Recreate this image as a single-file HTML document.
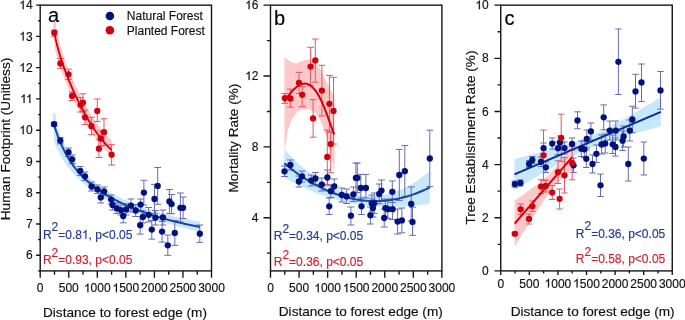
<!DOCTYPE html>
<html><head><meta charset="utf-8"><title>Forest edge effects</title>
<style>
html,body{margin:0;padding:0;background:#fff;}
body{width:685px;height:320px;overflow:hidden;}
svg{display:block;font-family:"Liberation Sans", sans-serif;will-change:transform;}
</style></head><body>
<svg xmlns="http://www.w3.org/2000/svg" width="685" height="320" viewBox="0 0 685 320">
<path d="M54.00,116.74 L54.92,119.62 L55.84,122.54 L56.75,125.33 L57.67,127.99 L58.59,130.54 L59.51,132.97 L60.43,135.32 L61.35,137.60 L62.26,139.78 L63.18,141.87 L64.10,143.88 L65.02,145.79 L65.94,147.63 L66.86,149.40 L67.77,151.09 L68.69,152.72 L69.61,154.28 L70.53,155.79 L71.45,157.24 L72.36,158.64 L73.28,159.98 L74.20,161.28 L75.12,162.53 L76.04,163.75 L76.96,164.92 L77.87,166.05 L78.79,167.15 L79.71,168.21 L80.63,169.26 L81.55,170.29 L82.47,171.29 L83.38,172.26 L84.30,173.21 L85.22,174.13 L86.14,175.02 L87.06,175.89 L87.97,176.74 L88.89,177.57 L89.81,178.37 L90.73,179.16 L91.65,179.93 L92.57,180.68 L93.48,181.42 L94.40,182.14 L95.32,182.84 L96.24,183.53 L97.16,184.20 L98.08,184.86 L98.99,185.51 L99.91,186.15 L100.83,186.77 L101.75,187.38 L102.67,187.98 L103.58,188.57 L104.50,189.15 L105.42,189.72 L106.34,190.28 L107.26,190.83 L108.18,191.37 L109.09,191.91 L110.01,192.43 L110.93,192.95 L111.85,193.46 L112.77,193.96 L113.69,194.45 L114.60,194.94 L115.52,195.42 L116.44,195.89 L117.36,196.35 L118.28,196.81 L119.19,197.26 L120.11,197.71 L121.03,198.15 L121.95,198.59 L122.87,199.03 L123.79,199.45 L124.70,199.87 L125.62,200.29 L126.54,200.70 L127.46,201.11 L128.38,201.51 L129.30,201.90 L130.21,202.29 L131.13,202.68 L132.05,203.06 L132.97,203.43 L133.89,203.81 L134.81,204.17 L135.72,204.54 L136.64,204.89 L137.56,205.25 L138.48,205.60 L139.40,205.94 L140.31,206.28 L141.23,206.62 L142.15,206.95 L143.07,207.28 L143.99,207.61 L144.91,207.93 L145.82,208.25 L146.74,208.56 L147.66,208.87 L148.58,209.18 L149.50,209.48 L150.42,209.78 L151.33,210.08 L152.25,210.37 L153.17,210.66 L154.09,210.95 L155.01,211.23 L155.92,211.51 L156.84,211.79 L157.76,212.06 L158.68,212.33 L159.60,212.60 L160.52,212.86 L161.43,213.12 L162.35,213.37 L163.27,213.62 L164.19,213.87 L165.11,214.11 L166.03,214.35 L166.94,214.59 L167.86,214.83 L168.78,215.06 L169.70,215.30 L170.62,215.52 L171.53,215.75 L172.45,215.97 L173.37,216.19 L174.29,216.41 L175.21,216.63 L176.13,216.84 L177.04,217.05 L177.96,217.26 L178.88,217.46 L179.80,217.67 L180.72,217.87 L181.64,218.07 L182.55,218.26 L183.47,218.46 L184.39,218.65 L185.31,218.84 L186.23,219.03 L187.14,219.21 L188.06,219.40 L188.98,219.58 L189.90,219.76 L190.82,219.93 L191.74,220.11 L192.65,220.28 L193.57,220.45 L194.49,220.62 L195.41,220.79 L196.33,220.95 L197.25,221.12 L198.16,221.28 L199.08,221.44 L200.00,221.59 L200.00,231.76 L199.08,231.56 L198.16,231.36 L197.25,231.15 L196.33,230.95 L195.41,230.74 L194.49,230.53 L193.57,230.32 L192.65,230.11 L191.74,229.89 L190.82,229.67 L189.90,229.45 L188.98,229.23 L188.06,229.01 L187.14,228.78 L186.23,228.55 L185.31,228.32 L184.39,228.09 L183.47,227.86 L182.55,227.62 L181.64,227.38 L180.72,227.14 L179.80,226.90 L178.88,226.65 L177.96,226.40 L177.04,226.15 L176.13,225.90 L175.21,225.65 L174.29,225.39 L173.37,225.13 L172.45,224.87 L171.53,224.60 L170.62,224.34 L169.70,224.07 L168.78,223.79 L167.86,223.52 L166.94,223.24 L166.03,222.96 L165.11,222.68 L164.19,222.39 L163.27,222.10 L162.35,221.81 L161.43,221.52 L160.52,221.22 L159.60,220.94 L158.68,220.67 L157.76,220.41 L156.84,220.13 L155.92,219.86 L155.01,219.58 L154.09,219.31 L153.17,219.02 L152.25,218.74 L151.33,218.45 L150.42,218.16 L149.50,217.86 L148.58,217.56 L147.66,217.26 L146.74,216.95 L145.82,216.64 L144.91,216.33 L143.99,216.02 L143.07,215.70 L142.15,215.37 L141.23,215.05 L140.31,214.72 L139.40,214.38 L138.48,214.04 L137.56,213.70 L136.64,213.36 L135.72,213.01 L134.81,212.65 L133.89,212.29 L132.97,211.93 L132.05,211.57 L131.13,211.20 L130.21,210.82 L129.30,210.44 L128.38,210.06 L127.46,209.67 L126.54,209.27 L125.62,208.88 L124.70,208.47 L123.79,208.07 L122.87,207.65 L121.95,207.23 L121.03,206.81 L120.11,206.38 L119.19,205.96 L118.28,205.54 L117.36,205.11 L116.44,204.67 L115.52,204.23 L114.60,203.78 L113.69,203.33 L112.77,202.87 L111.85,202.40 L110.93,201.93 L110.01,201.45 L109.09,200.97 L108.18,200.47 L107.26,199.97 L106.34,199.46 L105.42,198.95 L104.50,198.42 L103.58,197.89 L102.67,197.35 L101.75,196.80 L100.83,196.25 L99.91,195.68 L98.99,195.10 L98.08,194.52 L97.16,193.92 L96.24,193.32 L95.32,192.70 L94.40,192.07 L93.48,191.43 L92.57,190.78 L91.65,190.12 L90.73,189.44 L89.81,188.75 L88.89,188.05 L87.97,187.33 L87.06,186.60 L86.14,185.85 L85.22,185.09 L84.30,184.31 L83.38,183.51 L82.47,182.70 L81.55,181.86 L80.63,181.01 L79.71,180.14 L78.79,179.25 L77.87,178.35 L76.96,177.42 L76.04,176.47 L75.12,175.49 L74.20,174.49 L73.28,173.46 L72.36,172.40 L71.45,171.32 L70.53,170.20 L69.61,169.04 L68.69,167.85 L67.77,166.63 L66.86,165.37 L65.94,164.07 L65.02,162.72 L64.10,161.33 L63.18,159.90 L62.26,158.41 L61.35,156.88 L60.43,155.29 L59.51,153.60 L58.59,151.81 L57.67,149.95 L56.75,148.02 L55.84,146.01 L54.92,143.91 L54.00,141.35 Z" fill="#c6e7fc"/>
<path d="M52.9,113.6 L55.6,113.6 L56.2,127 L52.9,127 Z" fill="#c6e7fc"/>
<path d="M54.30,21.79 L54.78,23.79 L55.27,25.90 L55.75,27.95 L56.23,29.95 L56.72,31.89 L57.20,33.79 L57.68,35.63 L58.17,37.42 L58.65,39.16 L59.13,40.86 L59.62,42.51 L60.10,44.16 L60.58,45.92 L61.06,47.63 L61.55,49.30 L62.03,50.91 L62.51,52.48 L63.00,54.01 L63.48,55.49 L63.96,56.93 L64.45,58.34 L64.93,59.71 L65.41,61.05 L65.90,62.36 L66.38,63.66 L66.86,64.93 L67.35,66.20 L67.83,67.45 L68.31,68.68 L68.80,69.90 L69.28,71.11 L69.76,72.31 L70.25,73.49 L70.73,74.67 L71.21,75.83 L71.69,76.97 L72.18,78.11 L72.66,79.23 L73.14,80.34 L73.63,81.44 L74.11,82.53 L74.59,83.61 L75.08,84.68 L75.56,85.73 L76.04,86.78 L76.53,87.81 L77.01,88.84 L77.49,89.85 L77.98,90.86 L78.46,91.85 L78.94,92.84 L79.43,93.82 L79.91,94.79 L80.39,95.73 L80.88,96.65 L81.36,97.57 L81.84,98.48 L82.33,99.38 L82.81,100.28 L83.29,101.17 L83.77,102.05 L84.26,102.92 L84.74,103.79 L85.22,104.64 L85.71,105.49 L86.19,106.34 L86.67,107.18 L87.16,108.01 L87.64,108.83 L88.12,109.64 L88.61,110.45 L89.09,111.25 L89.57,112.04 L90.06,112.83 L90.54,113.61 L91.02,114.38 L91.51,115.15 L91.99,115.90 L92.47,116.65 L92.96,117.40 L93.44,118.13 L93.92,118.86 L94.41,119.58 L94.89,120.30 L95.37,120.99 L95.85,121.68 L96.34,122.35 L96.82,123.02 L97.30,123.68 L97.79,124.34 L98.27,124.99 L98.75,125.63 L99.24,126.27 L99.72,126.90 L100.20,127.52 L100.69,128.13 L101.17,128.74 L101.65,129.34 L102.14,129.93 L102.62,130.52 L103.10,131.10 L103.59,131.67 L104.07,132.24 L104.55,132.80 L105.04,133.35 L105.52,133.91 L106.00,134.45 L106.48,134.99 L106.97,135.53 L107.45,136.05 L107.93,136.57 L108.42,137.08 L108.90,137.59 L109.38,138.09 L109.87,138.58 L110.35,139.06 L110.83,139.54 L111.32,140.01 L111.80,140.43 L111.80,156.25 L111.32,155.79 L110.83,155.34 L110.35,154.88 L109.87,154.41 L109.38,153.94 L108.90,153.46 L108.42,152.98 L107.93,152.48 L107.45,151.98 L106.97,151.47 L106.48,150.96 L106.00,150.43 L105.52,149.90 L105.04,149.36 L104.55,148.84 L104.07,148.31 L103.59,147.78 L103.10,147.24 L102.62,146.69 L102.14,146.14 L101.65,145.57 L101.17,145.00 L100.69,144.43 L100.20,143.84 L99.72,143.25 L99.24,142.65 L98.75,142.04 L98.27,141.43 L97.79,140.80 L97.30,140.17 L96.82,139.54 L96.34,138.89 L95.85,138.24 L95.37,137.58 L94.89,136.91 L94.41,136.26 L93.92,135.59 L93.44,134.92 L92.96,134.23 L92.47,133.55 L91.99,132.85 L91.51,132.15 L91.02,131.43 L90.54,130.71 L90.06,129.99 L89.57,129.25 L89.09,128.51 L88.61,127.76 L88.12,127.00 L87.64,126.24 L87.16,125.47 L86.67,124.68 L86.19,123.90 L85.71,123.10 L85.22,122.30 L84.74,121.48 L84.26,120.66 L83.77,119.84 L83.29,119.00 L82.81,118.16 L82.33,117.30 L81.84,116.44 L81.36,115.58 L80.88,114.70 L80.39,113.82 L79.91,112.92 L79.43,112.00 L78.94,111.07 L78.46,110.13 L77.98,109.19 L77.49,108.23 L77.01,107.27 L76.53,106.31 L76.04,105.33 L75.56,104.35 L75.08,103.35 L74.59,102.35 L74.11,101.34 L73.63,100.32 L73.14,99.29 L72.66,98.26 L72.18,97.21 L71.69,96.15 L71.21,95.08 L70.73,94.01 L70.25,92.92 L69.76,91.82 L69.28,90.71 L68.80,89.59 L68.31,88.45 L67.83,87.31 L67.35,86.15 L66.86,84.98 L66.38,83.80 L65.90,82.61 L65.41,81.41 L64.93,80.20 L64.45,79.00 L63.96,77.79 L63.48,76.57 L63.00,75.34 L62.51,74.10 L62.03,72.85 L61.55,71.57 L61.06,70.28 L60.58,68.97 L60.10,67.64 L59.62,66.11 L59.13,64.50 L58.65,62.85 L58.17,61.16 L57.68,59.41 L57.20,57.62 L56.72,55.77 L56.23,53.85 L55.75,51.88 L55.27,49.84 L54.78,47.73 L54.30,45.37 Z" fill="#fec8c8"/>
<path d="M53.4,20.6 L56.0,20.6 L56.6,36 L53.4,36 Z" fill="#fec8c8"/>
<path d="M54.10,122.40V126.00M50.70,122.40H57.50M50.70,126.00H57.50M60.30,137.50V143.80M56.90,137.50H63.70M56.90,143.80H63.70M68.50,148.00V156.50M65.10,148.00H71.90M65.10,156.50H71.90M72.20,155.00V163.50M68.80,155.00H75.60M68.80,163.50H75.60M80.30,166.50V175.50M76.90,166.50H83.70M76.90,175.50H83.70M85.00,172.00V180.50M81.60,172.00H88.40M81.60,180.50H88.40M91.60,182.00V191.00M88.20,182.00H95.00M88.20,191.00H95.00M97.50,185.00V193.60M94.10,185.00H100.90M94.10,193.60H100.90M104.10,187.00V195.80M100.70,187.00H107.50M100.70,195.80H107.50M100.80,192.00V203.00M97.40,192.00H104.20M97.40,203.00H104.20M111.20,195.00V204.00M107.80,195.00H114.60M107.80,204.00H114.60M112.50,200.00V210.00M109.10,200.00H115.90M109.10,210.00H115.90M116.90,203.00V213.50M113.50,203.00H120.30M113.50,213.50H120.30M120.90,205.00V215.00M117.50,205.00H124.30M117.50,215.00H124.30M123.20,209.50V222.80M119.80,209.50H126.60M119.80,222.80H126.60M126.20,204.00V215.00M122.80,204.00H129.60M122.80,215.00H129.60M131.00,199.00V212.00M127.60,199.00H134.40M127.60,212.00H134.40M135.70,204.50V216.50M132.30,204.50H139.10M132.30,216.50H139.10M140.60,199.00V210.50M137.20,199.00H144.00M137.20,210.50H144.00M143.90,180.30V205.00M140.50,180.30H147.30M140.50,205.00H147.30M142.90,211.00V223.00M139.50,211.00H146.30M139.50,223.00H146.30M140.20,216.50V234.10M136.80,216.50H143.60M136.80,234.10H143.60M148.70,207.50V222.00M145.30,207.50H152.10M145.30,222.00H152.10M154.50,184.40V213.60M151.10,184.40H157.90M151.10,213.60H157.90M157.70,167.50V204.30M154.30,167.50H161.10M154.30,204.30H161.10M155.40,210.50V225.00M152.00,210.50H158.80M152.00,225.00H158.80M151.80,220.50V239.10M148.40,220.50H155.20M148.40,239.10H155.20M162.90,210.00V225.00M159.50,210.00H166.30M159.50,225.00H166.30M162.10,221.50V242.10M158.70,221.50H165.50M158.70,242.10H165.50M169.40,189.50V213.60M166.00,189.50H172.80M166.00,213.60H172.80M171.60,194.50V213.70M168.20,194.50H175.00M168.20,213.70H175.00M174.80,220.50V245.30M171.40,220.50H178.20M171.40,245.30H178.20M180.40,193.00V222.00M177.00,193.00H183.80M177.00,222.00H183.80M183.10,197.00V218.50M179.70,197.00H186.50M179.70,218.50H186.50M199.80,225.00V242.40M196.40,225.00H203.20M196.40,242.40H203.20M167.80,235.00V255.30M164.40,235.00H171.20M164.40,255.30H171.20" fill="none" stroke="#666cb4" stroke-width="1.0" opacity="1.0"/>
<path d="M54.30,30.20V36.30M50.90,30.20H57.70M50.90,36.30H57.70M60.40,58.50V68.40M57.00,58.50H63.80M57.00,68.40H63.80M68.50,69.20V79.40M65.10,69.20H71.90M65.10,79.40H71.90M72.00,92.00V100.50M68.60,92.00H75.40M68.60,100.50H75.40M80.60,97.50V112.00M77.20,97.50H84.00M77.20,112.00H84.00M83.00,93.80V111.50M79.60,93.80H86.40M79.60,111.50H86.40M97.30,99.00V121.60M93.90,99.00H100.70M93.90,121.60H100.70M85.10,110.00V124.50M81.70,110.00H88.50M81.70,124.50H88.50M91.50,117.30V134.70M88.10,117.30H94.90M88.10,134.70H94.90M104.00,118.80V145.50M100.60,118.80H107.40M100.60,145.50H107.40M100.80,131.00V146.00M97.40,131.00H104.20M97.40,146.00H104.20M98.90,140.00V157.50M95.50,140.00H102.30M95.50,157.50H102.30M111.60,144.70V165.00M108.20,144.70H115.00M108.20,165.00H115.00" fill="none" stroke="#e4566a" stroke-width="1.0" opacity="1.0"/>
<path d="M54.00,124.72 L55.23,128.58 L56.45,132.21 L57.68,135.61 L58.91,138.81 L60.13,141.83 L61.36,144.68 L62.59,147.36 L63.82,149.90 L65.04,152.31 L66.27,154.59 L67.50,156.75 L68.72,158.81 L69.95,160.77 L71.18,162.63 L72.40,164.42 L73.63,166.12 L74.86,167.75 L76.08,169.30 L77.31,170.80 L78.54,172.24 L79.76,173.62 L80.99,174.95 L82.22,176.23 L83.45,177.47 L84.67,178.66 L85.90,179.82 L87.13,180.94 L88.35,182.02 L89.58,183.07 L90.81,184.09 L92.03,185.08 L93.26,186.05 L94.49,186.98 L95.71,187.90 L96.94,188.79 L98.17,189.65 L99.39,190.50 L100.62,191.33 L101.85,192.14 L103.08,192.93 L104.30,193.70 L105.53,194.45 L106.76,195.19 L107.98,195.92 L109.21,196.63 L110.44,197.33 L111.66,198.01 L112.89,198.68 L114.12,199.34 L115.34,199.98 L116.57,200.61 L117.80,201.24 L119.03,201.85 L120.25,202.45 L121.48,203.04 L122.71,203.62 L123.93,204.19 L125.16,204.75 L126.39,205.30 L127.61,205.84 L128.84,206.38 L130.07,206.90 L131.29,207.42 L132.52,207.93 L133.75,208.43 L134.97,208.92 L136.20,209.41 L137.43,209.89 L138.66,210.36 L139.88,210.82 L141.11,211.28 L142.34,211.73 L143.56,212.17 L144.79,212.61 L146.02,213.04 L147.24,213.46 L148.47,213.88 L149.70,214.29 L150.92,214.69 L152.15,215.09 L153.38,215.48 L154.61,215.87 L155.83,216.25 L157.06,216.63 L158.29,217.00 L159.51,217.37 L160.74,217.73 L161.97,218.08 L163.19,218.43 L164.42,218.77 L165.65,219.11 L166.87,219.45 L168.10,219.78 L169.33,220.10 L170.55,220.42 L171.78,220.74 L173.01,221.05 L174.24,221.36 L175.46,221.66 L176.69,221.96 L177.92,222.25 L179.14,222.54 L180.37,222.83 L181.60,223.11 L182.82,223.39 L184.05,223.66 L185.28,223.93 L186.50,224.20 L187.73,224.46 L188.96,224.72 L190.18,224.97 L191.41,225.22 L192.64,225.47 L193.87,225.71 L195.09,225.95 L196.32,226.19 L197.55,226.42 L198.77,226.65 L200.00,226.88" fill="none" stroke="#1a44a6" stroke-width="2.0" stroke-linejoin="round" stroke-linecap="butt"/>
<path d="M54.30,33.11 L55.03,36.42 L55.75,39.59 L56.48,42.62 L57.20,45.51 L57.93,48.28 L58.65,50.93 L59.38,53.47 L60.10,55.92 L60.83,58.26 L61.55,60.53 L62.28,62.71 L63.00,64.83 L63.73,66.88 L64.45,68.88 L65.18,70.84 L65.91,72.76 L66.63,74.64 L67.36,76.50 L68.08,78.32 L68.81,80.12 L69.53,81.89 L70.26,83.63 L70.98,85.34 L71.71,87.03 L72.43,88.69 L73.16,90.33 L73.88,91.95 L74.61,93.54 L75.33,95.10 L76.06,96.65 L76.78,98.18 L77.51,99.68 L78.24,101.16 L78.96,102.63 L79.69,104.08 L80.41,105.50 L81.14,106.91 L81.86,108.30 L82.59,109.68 L83.31,111.03 L84.04,112.37 L84.76,113.68 L85.49,114.98 L86.21,116.26 L86.94,117.53 L87.66,118.77 L88.39,120.00 L89.12,121.21 L89.84,122.40 L90.57,123.57 L91.29,124.72 L92.02,125.86 L92.74,126.98 L93.47,128.08 L94.19,129.17 L94.92,130.23 L95.64,131.28 L96.37,132.31 L97.09,133.33 L97.82,134.33 L98.54,135.31 L99.27,136.27 L99.99,137.22 L100.72,138.14 L101.45,139.06 L102.17,139.95 L102.90,140.83 L103.62,141.69 L104.35,142.53 L105.07,143.36 L105.80,144.17 L106.52,144.97 L107.25,145.74 L107.97,146.50 L108.70,147.25 L109.42,147.98 L110.15,148.69 L110.87,149.39 L111.60,150.07" fill="none" stroke="#d0000c" stroke-width="1.8" stroke-linejoin="round" stroke-linecap="butt"/>
<circle cx="54.10" cy="124.20" r="3.15" fill="#00127f"/>
<circle cx="60.30" cy="140.60" r="3.15" fill="#00127f"/>
<circle cx="68.50" cy="152.20" r="3.15" fill="#00127f"/>
<circle cx="72.20" cy="159.30" r="3.15" fill="#00127f"/>
<circle cx="80.30" cy="171.00" r="3.15" fill="#00127f"/>
<circle cx="85.00" cy="176.30" r="3.15" fill="#00127f"/>
<circle cx="91.60" cy="186.50" r="3.15" fill="#00127f"/>
<circle cx="97.50" cy="189.30" r="3.15" fill="#00127f"/>
<circle cx="104.10" cy="191.40" r="3.15" fill="#00127f"/>
<circle cx="100.80" cy="197.40" r="3.15" fill="#00127f"/>
<circle cx="111.20" cy="199.60" r="3.15" fill="#00127f"/>
<circle cx="112.50" cy="205.00" r="3.15" fill="#00127f"/>
<circle cx="116.90" cy="208.40" r="3.15" fill="#00127f"/>
<circle cx="120.90" cy="210.10" r="3.15" fill="#00127f"/>
<circle cx="123.20" cy="216.00" r="3.15" fill="#00127f"/>
<circle cx="126.20" cy="209.40" r="3.15" fill="#00127f"/>
<circle cx="131.00" cy="205.60" r="3.15" fill="#00127f"/>
<circle cx="135.70" cy="210.50" r="3.15" fill="#00127f"/>
<circle cx="140.60" cy="204.60" r="3.15" fill="#00127f"/>
<circle cx="143.90" cy="192.60" r="3.15" fill="#00127f"/>
<circle cx="142.90" cy="217.00" r="3.15" fill="#00127f"/>
<circle cx="140.20" cy="225.20" r="3.15" fill="#00127f"/>
<circle cx="148.70" cy="214.80" r="3.15" fill="#00127f"/>
<circle cx="154.50" cy="199.00" r="3.15" fill="#00127f"/>
<circle cx="157.70" cy="185.90" r="3.15" fill="#00127f"/>
<circle cx="155.40" cy="217.70" r="3.15" fill="#00127f"/>
<circle cx="151.80" cy="229.60" r="3.15" fill="#00127f"/>
<circle cx="162.90" cy="217.50" r="3.15" fill="#00127f"/>
<circle cx="162.10" cy="231.60" r="3.15" fill="#00127f"/>
<circle cx="169.40" cy="201.40" r="3.15" fill="#00127f"/>
<circle cx="171.60" cy="204.10" r="3.15" fill="#00127f"/>
<circle cx="174.80" cy="232.90" r="3.15" fill="#00127f"/>
<circle cx="180.40" cy="207.80" r="3.15" fill="#00127f"/>
<circle cx="183.10" cy="207.80" r="3.15" fill="#00127f"/>
<circle cx="199.80" cy="233.70" r="3.15" fill="#00127f"/>
<circle cx="167.80" cy="245.30" r="3.15" fill="#00127f"/>
<circle cx="54.30" cy="32.70" r="3.15" fill="#d2000f"/>
<circle cx="60.40" cy="63.50" r="3.15" fill="#d2000f"/>
<circle cx="68.50" cy="74.30" r="3.15" fill="#d2000f"/>
<circle cx="72.00" cy="96.00" r="3.15" fill="#d2000f"/>
<circle cx="80.60" cy="104.80" r="3.15" fill="#d2000f"/>
<circle cx="83.00" cy="102.60" r="3.15" fill="#d2000f"/>
<circle cx="97.30" cy="111.00" r="3.15" fill="#d2000f"/>
<circle cx="85.10" cy="117.30" r="3.15" fill="#d2000f"/>
<circle cx="91.50" cy="126.20" r="3.15" fill="#d2000f"/>
<circle cx="104.00" cy="132.20" r="3.15" fill="#d2000f"/>
<circle cx="100.80" cy="138.50" r="3.15" fill="#d2000f"/>
<circle cx="98.90" cy="148.70" r="3.15" fill="#d2000f"/>
<circle cx="111.60" cy="154.70" r="3.15" fill="#d2000f"/>
<path d="M36.10,255.27H40.20M36.10,224.00H40.20M36.10,192.74H40.20M36.10,161.47H40.20M36.10,130.21H40.20M36.10,98.94H40.20M36.10,67.68H40.20M36.10,36.41H40.20M36.10,5.15H40.20M38.10,270.90H40.20M38.10,239.64H40.20M38.10,208.37H40.20M38.10,177.11H40.20M38.10,145.84H40.20M38.10,114.58H40.20M38.10,83.31H40.20M38.10,52.05H40.20M38.10,20.78H40.20M40.20,270.90V277.70M68.75,270.90V277.70M97.30,270.90V277.70M125.85,270.90V277.70M154.40,270.90V277.70M182.95,270.90V277.70M211.50,270.90V277.70M54.48,270.90V274.70M83.03,270.90V274.70M111.58,270.90V274.70M140.12,270.90V274.70M168.68,270.90V274.70M197.23,270.90V274.70" stroke="#141414" stroke-width="1.35" fill="none"/>
<rect x="40.20" y="5.15" width="171.30" height="265.75" fill="none" stroke="#141414" stroke-width="1.4"/>
<text x="32.60" y="259.37" font-size="12" fill="#111" stroke="#111" stroke-width="0.16" text-anchor="end" >6</text>
<text x="32.60" y="228.10" font-size="12" fill="#111" stroke="#111" stroke-width="0.16" text-anchor="end" >7</text>
<text x="32.60" y="196.84" font-size="12" fill="#111" stroke="#111" stroke-width="0.16" text-anchor="end" >8</text>
<text x="32.60" y="165.57" font-size="12" fill="#111" stroke="#111" stroke-width="0.16" text-anchor="end" >9</text>
<text id="t1" x="32.60" y="134.31" font-size="12" fill="#111" stroke="#111" stroke-width="0.16" text-anchor="end" > 0</text>
<path transform="translate(19.241,134.310) scale(0.005859,-0.005859)" d="M768,0 L580,0 L580,1160 C537,1119 480,1077 410,1036 C340,995 277,964 222,943 L222,1117 C323,1164 411,1222 486,1289 C561,1356 614,1424 645,1490 L768,1490 Z" fill="#111" stroke="#111" stroke-width="27.31"/>
<text id="t2" x="32.60" y="103.04" font-size="12" fill="#111" stroke="#111" stroke-width="0.16" text-anchor="end" >  </text>
<path transform="translate(20.131,103.040) scale(0.005859,-0.005859)" d="M768,0 L580,0 L580,1160 C537,1119 480,1077 410,1036 C340,995 277,964 222,943 L222,1117 C323,1164 411,1222 486,1289 C561,1356 614,1424 645,1490 L768,1490 Z" fill="#111" stroke="#111" stroke-width="27.31"/>
<path transform="translate(25.912,103.040) scale(0.005859,-0.005859)" d="M768,0 L580,0 L580,1160 C537,1119 480,1077 410,1036 C340,995 277,964 222,943 L222,1117 C323,1164 411,1222 486,1289 C561,1356 614,1424 645,1490 L768,1490 Z" fill="#111" stroke="#111" stroke-width="27.31"/>
<text id="t3" x="32.60" y="71.78" font-size="12" fill="#111" stroke="#111" stroke-width="0.16" text-anchor="end" > 2</text>
<path transform="translate(19.241,71.780) scale(0.005859,-0.005859)" d="M768,0 L580,0 L580,1160 C537,1119 480,1077 410,1036 C340,995 277,964 222,943 L222,1117 C323,1164 411,1222 486,1289 C561,1356 614,1424 645,1490 L768,1490 Z" fill="#111" stroke="#111" stroke-width="27.31"/>
<text id="t4" x="32.60" y="40.51" font-size="12" fill="#111" stroke="#111" stroke-width="0.16" text-anchor="end" > 3</text>
<path transform="translate(19.241,40.510) scale(0.005859,-0.005859)" d="M768,0 L580,0 L580,1160 C537,1119 480,1077 410,1036 C340,995 277,964 222,943 L222,1117 C323,1164 411,1222 486,1289 C561,1356 614,1424 645,1490 L768,1490 Z" fill="#111" stroke="#111" stroke-width="27.31"/>
<text id="t5" x="32.60" y="9.25" font-size="12" fill="#111" stroke="#111" stroke-width="0.16" text-anchor="end" > 4</text>
<path transform="translate(19.241,9.250) scale(0.005859,-0.005859)" d="M768,0 L580,0 L580,1160 C537,1119 480,1077 410,1036 C340,995 277,964 222,943 L222,1117 C323,1164 411,1222 486,1289 C561,1356 614,1424 645,1490 L768,1490 Z" fill="#111" stroke="#111" stroke-width="27.31"/>
<text x="40.20" y="292.30" font-size="12" fill="#111" stroke="#111" stroke-width="0.16" text-anchor="middle" >0</text>
<text x="68.75" y="292.30" font-size="12" fill="#111" stroke="#111" stroke-width="0.16" text-anchor="middle" >500</text>
<text id="t6" x="97.30" y="292.30" font-size="12" fill="#111" stroke="#111" stroke-width="0.16" text-anchor="middle" > 000</text>
<path transform="translate(83.948,292.300) scale(0.005859,-0.005859)" d="M768,0 L580,0 L580,1160 C537,1119 480,1077 410,1036 C340,995 277,964 222,943 L222,1117 C323,1164 411,1222 486,1289 C561,1356 614,1424 645,1490 L768,1490 Z" fill="#111" stroke="#111" stroke-width="27.31"/>
<text id="t7" x="125.85" y="292.30" font-size="12" fill="#111" stroke="#111" stroke-width="0.16" text-anchor="middle" > 500</text>
<path transform="translate(112.498,292.300) scale(0.005859,-0.005859)" d="M768,0 L580,0 L580,1160 C537,1119 480,1077 410,1036 C340,995 277,964 222,943 L222,1117 C323,1164 411,1222 486,1289 C561,1356 614,1424 645,1490 L768,1490 Z" fill="#111" stroke="#111" stroke-width="27.31"/>
<text x="154.40" y="292.30" font-size="12" fill="#111" stroke="#111" stroke-width="0.16" text-anchor="middle" >2000</text>
<text x="182.95" y="292.30" font-size="12" fill="#111" stroke="#111" stroke-width="0.16" text-anchor="middle" >2500</text>
<text x="211.50" y="292.30" font-size="12" fill="#111" stroke="#111" stroke-width="0.16" text-anchor="middle" >3000</text>
<circle cx="109.9" cy="16.0" r="4.3" fill="#00127f"/>
<circle cx="109.9" cy="30.3" r="4.3" fill="#d2000f"/>
<text x="126.8" y="19.8" font-size="12" fill="#111" stroke="#111" stroke-width="0.16" text-anchor="start" >Natural Forest</text>
<text x="126.8" y="34.5" font-size="12" fill="#111" stroke="#111" stroke-width="0.16" text-anchor="start" >Planted Forest</text>
<text x="48.0" y="22.1" font-size="20" fill="#000" stroke="#000" stroke-width="0.16" text-anchor="start" >a</text>
<text id="t8" x="42.9" y="238.7" font-size="12" fill="#22389a" stroke="#22389a" stroke-width="0.16">R<tspan dy="-7.3">2</tspan><tspan dy="7.3">=0.8 , p&lt;0.05</tspan></text>
<path transform="translate(81.947,238.700) scale(0.005859,-0.005859)" d="M768,0 L580,0 L580,1160 C537,1119 480,1077 410,1036 C340,995 277,964 222,943 L222,1117 C323,1164 411,1222 486,1289 C561,1356 614,1424 645,1490 L768,1490 Z" fill="#22389a" stroke="#22389a" stroke-width="27.31"/>
<text id="t9" x="42.9" y="263.8" font-size="12" fill="#d21f2a" stroke="#d21f2a" stroke-width="0.16">R<tspan dy="-7.3">2</tspan><tspan dy="7.3">=0.93, p&lt;0.05</tspan></text>
<path d="M284.30,149.05 L285.77,150.65 L287.24,152.22 L288.71,153.78 L290.18,155.32 L291.65,156.83 L293.12,158.33 L294.59,159.81 L296.06,161.21 L297.53,162.57 L299.00,163.91 L300.47,165.24 L301.94,166.54 L303.41,167.82 L304.88,169.08 L306.35,170.30 L307.82,171.43 L309.28,172.53 L310.75,173.62 L312.22,174.68 L313.69,175.73 L315.16,176.76 L316.63,177.76 L318.10,178.75 L319.57,179.72 L321.04,180.64 L322.51,181.53 L323.98,182.39 L325.45,183.24 L326.92,184.07 L328.39,184.88 L329.86,185.67 L331.33,186.44 L332.80,187.15 L334.27,187.79 L335.74,188.41 L337.21,189.02 L338.68,189.60 L340.15,190.17 L341.62,190.71 L343.09,191.24 L344.56,191.74 L346.03,192.22 L347.50,192.63 L348.97,193.01 L350.44,193.37 L351.91,193.72 L353.38,194.04 L354.85,194.34 L356.32,194.63 L357.78,194.89 L359.25,195.13 L360.72,195.34 L362.19,195.50 L363.66,195.64 L365.13,195.75 L366.60,195.85 L368.07,195.93 L369.54,196.00 L371.01,196.04 L372.48,196.03 L373.95,195.96 L375.42,195.87 L376.89,195.76 L378.36,195.62 L379.83,195.47 L381.30,195.30 L382.77,195.11 L384.24,194.88 L385.71,194.53 L387.18,194.15 L388.65,193.76 L390.12,193.35 L391.59,192.92 L393.06,192.46 L394.53,191.99 L396.00,191.50 L397.47,190.92 L398.94,190.31 L400.41,189.69 L401.88,189.04 L403.35,188.38 L404.82,187.70 L406.28,186.99 L407.75,186.27 L409.22,185.47 L410.69,184.63 L412.16,183.77 L413.63,182.90 L415.10,182.00 L416.57,181.09 L418.04,180.15 L419.51,179.07 L420.98,177.98 L422.45,176.87 L423.92,175.74 L425.39,174.58 L426.86,173.41 L428.33,172.22 L429.80,171.01 L429.80,203.81 L428.33,204.05 L426.86,204.27 L425.39,204.47 L423.92,204.65 L422.45,204.81 L420.98,204.95 L419.51,205.07 L418.04,205.18 L416.57,205.37 L415.10,205.55 L413.63,205.71 L412.16,205.85 L410.69,205.98 L409.22,206.08 L407.75,206.17 L406.28,206.31 L404.82,206.42 L403.35,206.52 L401.88,206.59 L400.41,206.65 L398.94,206.69 L397.47,206.70 L396.00,206.70 L394.53,206.75 L393.06,206.78 L391.59,206.79 L390.12,206.78 L388.65,206.76 L387.18,206.71 L385.71,206.64 L384.24,206.55 L382.77,206.55 L381.30,206.54 L379.83,206.52 L378.36,206.47 L376.89,206.41 L375.42,206.32 L373.95,206.22 L372.48,206.10 L371.01,206.00 L369.54,205.91 L368.07,205.80 L366.60,205.67 L365.13,205.53 L363.66,205.36 L362.19,205.17 L360.72,204.96 L359.25,204.76 L357.78,204.55 L356.32,204.33 L354.85,204.09 L353.38,203.83 L351.91,203.55 L350.44,203.25 L348.97,202.92 L347.50,202.58 L346.03,202.22 L344.56,201.91 L343.09,201.57 L341.62,201.21 L340.15,200.83 L338.68,200.44 L337.21,200.02 L335.74,199.59 L334.27,199.13 L332.80,198.66 L331.33,198.20 L329.86,197.77 L328.39,197.33 L326.92,196.86 L325.45,196.37 L323.98,195.87 L322.51,195.34 L321.04,194.79 L319.57,194.24 L318.10,193.69 L316.63,193.12 L315.16,192.54 L313.69,191.93 L312.22,191.30 L310.75,190.66 L309.28,189.99 L307.82,189.31 L306.35,188.60 L304.88,187.95 L303.41,187.30 L301.94,186.64 L300.47,185.95 L299.00,185.24 L297.53,184.52 L296.06,183.77 L294.59,183.03 L293.12,182.32 L291.65,181.59 L290.18,180.84 L288.71,180.07 L287.24,179.28 L285.77,178.48 L284.30,177.65 Z" fill="#c6e7fc"/>
<path d="M284.40,57.00 L288.00,60.00 L292.00,62.50 L296.00,63.50 L300.00,62.00 L305.00,60.00 L310.00,59.50 L314.00,61.50 L318.00,66.00 L322.00,72.50 L326.00,81.00 L330.00,89.00 L334.60,97.00 L334.60,172.00 L330.00,152.00 L326.00,136.00 L322.00,124.00 L318.00,116.00 L314.00,111.50 L310.00,109.50 L305.00,109.00 L300.00,110.00 L296.00,113.00 L292.00,119.00 L288.00,130.00 L284.40,150.00 Z" fill="#fec8c8"/>
<path d="M284.50,166.00V176.50M281.10,166.00H287.90M281.10,176.50H287.90M290.40,160.00V170.00M287.00,160.00H293.80M287.00,170.00H293.80M298.90,176.00V187.00M295.50,176.00H302.30M295.50,187.00H302.30M302.00,171.00V182.00M298.60,171.00H305.40M298.60,182.00H305.40M311.20,175.00V186.00M307.80,175.00H314.60M307.80,186.00H314.60M315.40,172.50V184.50M312.00,172.50H318.80M312.00,184.50H318.80M321.80,178.00V191.00M318.40,178.00H325.20M318.40,191.00H325.20M327.40,170.00V185.00M324.00,170.00H330.80M324.00,185.00H330.80M330.80,185.00V197.50M327.40,185.00H334.20M327.40,197.50H334.20M334.30,179.00V193.50M330.90,179.00H337.70M330.90,193.50H337.70M329.20,198.00V214.50M325.80,198.00H332.60M325.80,214.50H332.60M341.80,188.00V202.00M338.40,188.00H345.20M338.40,202.00H345.20M346.60,189.00V203.50M343.20,189.00H350.00M343.20,203.50H350.00M353.40,187.00V201.50M350.00,187.00H356.80M350.00,201.50H356.80M355.90,163.10V192.70M352.50,163.10H359.30M352.50,192.70H359.30M357.30,163.10V192.70M353.90,163.10H360.70M353.90,192.70H360.70M360.80,174.40V201.00M357.40,174.40H364.20M357.40,201.00H364.20M365.90,174.40V198.00M362.50,174.40H369.30M362.50,198.00H369.30M361.50,198.00V214.50M358.10,198.00H364.90M358.10,214.50H364.90M350.90,207.00V225.00M347.50,207.00H354.30M347.50,225.00H354.30M371.80,195.00V212.00M368.40,195.00H375.20M368.40,212.00H375.20M374.20,193.00V213.50M370.80,193.00H377.60M370.80,213.50H377.60M372.90,199.00V217.00M369.50,199.00H376.30M369.50,217.00H376.30M370.40,207.00V224.00M367.00,207.00H373.80M367.00,224.00H373.80M381.50,180.00V201.00M378.10,180.00H384.90M378.10,201.00H384.90M379.20,184.00V203.80M375.80,184.00H382.60M375.80,203.80H382.60M385.40,199.00V217.00M382.00,199.00H388.80M382.00,217.00H388.80M387.80,200.00V218.50M384.40,200.00H391.20M384.40,218.50H391.20M392.30,181.00V202.50M388.90,181.00H395.70M388.90,202.50H395.70M392.60,199.00V219.50M389.20,199.00H396.00M389.20,219.50H396.00M384.20,209.00V227.00M380.80,209.00H387.60M380.80,227.00H387.60M397.60,209.00V234.00M394.20,209.00H401.00M394.20,234.00H401.00M401.90,208.00V232.80M398.50,208.00H405.30M398.50,232.80H405.30M399.30,149.40V200.60M395.90,149.40H402.70M395.90,200.60H402.70M404.80,145.60V196.80M401.40,145.60H408.20M401.40,196.80H408.20M411.20,186.90V221.00M407.80,186.90H414.60M407.80,221.00H414.60M412.50,207.20V235.30M409.10,207.20H415.90M409.10,235.30H415.90M429.80,130.20V186.60M426.40,130.20H433.20M426.40,186.60H433.20" fill="none" stroke="#666cb4" stroke-width="1.0" opacity="1.0"/>
<path d="M284.80,93.50V103.40M281.40,93.50H288.20M281.40,103.40H288.20M290.40,89.10V107.10M287.00,89.10H293.80M287.00,107.10H293.80M299.00,72.40V93.50M295.60,72.40H302.40M295.60,93.50H302.40M302.20,86.50V106.60M298.80,86.50H305.60M298.80,106.60H305.60M310.60,47.30V85.90M307.20,47.30H314.00M307.20,85.90H314.00M315.30,39.00V82.20M311.90,39.00H318.70M311.90,82.20H318.70M313.10,99.60V137.20M309.70,99.60H316.50M309.70,137.20H316.50M321.90,65.30V115.90M318.50,65.30H325.30M318.50,115.90H325.30M329.40,75.40V132.00M326.00,75.40H332.80M326.00,132.00H332.80M333.50,77.30V144.00M330.10,77.30H336.90M330.10,144.00H336.90M330.70,132.30V172.80M327.30,132.30H334.10M327.30,172.80H334.10M327.30,130.00V184.40M323.90,130.00H330.70M323.90,184.40H330.70" fill="none" stroke="#e4566a" stroke-width="1.0" opacity="1.0"/>
<path d="M284.30,163.35 L285.52,164.36 L286.75,165.36 L287.97,166.34 L289.20,167.31 L290.42,168.27 L291.65,169.21 L292.87,170.14 L294.09,171.05 L295.32,171.95 L296.54,172.84 L297.77,173.72 L298.99,174.58 L300.22,175.42 L301.44,176.25 L302.67,177.07 L303.89,177.88 L305.11,178.67 L306.34,179.45 L307.56,180.21 L308.79,180.96 L310.01,181.70 L311.24,182.42 L312.46,183.13 L313.68,183.82 L314.91,184.51 L316.13,185.17 L317.36,185.83 L318.58,186.47 L319.81,187.10 L321.03,187.71 L322.26,188.31 L323.48,188.89 L324.70,189.47 L325.93,190.02 L327.15,190.57 L328.38,191.10 L329.60,191.62 L330.83,192.12 L332.05,192.61 L333.27,193.08 L334.50,193.55 L335.72,193.99 L336.95,194.43 L338.17,194.85 L339.40,195.26 L340.62,195.65 L341.85,196.03 L343.07,196.40 L344.29,196.75 L345.52,197.09 L346.74,197.41 L347.97,197.72 L349.19,198.02 L350.42,198.30 L351.64,198.57 L352.86,198.83 L354.09,199.07 L355.31,199.30 L356.54,199.52 L357.76,199.72 L358.99,199.91 L360.21,200.08 L361.44,200.24 L362.66,200.39 L363.88,200.52 L365.11,200.64 L366.33,200.74 L367.56,200.84 L368.78,200.91 L370.01,200.98 L371.23,201.03 L372.45,201.06 L373.68,201.09 L374.90,201.10 L376.13,201.09 L377.35,201.07 L378.58,201.04 L379.80,201.00 L381.03,200.94 L382.25,200.86 L383.47,200.78 L384.70,200.68 L385.92,200.56 L387.15,200.43 L388.37,200.29 L389.60,200.14 L390.82,199.97 L392.04,199.78 L393.27,199.59 L394.49,199.38 L395.72,199.15 L396.94,198.92 L398.17,198.66 L399.39,198.40 L400.62,198.12 L401.84,197.83 L403.06,197.52 L404.29,197.20 L405.51,196.87 L406.74,196.52 L407.96,196.16 L409.19,195.78 L410.41,195.39 L411.63,194.99 L412.86,194.58 L414.08,194.15 L415.31,193.70 L416.53,193.25 L417.76,192.77 L418.98,192.29 L420.21,191.79 L421.43,191.28 L422.65,190.75 L423.88,190.21 L425.10,189.66 L426.33,189.09 L427.55,188.51 L428.78,187.92 L430.00,187.31" fill="none" stroke="#1a44a6" stroke-width="2.0" stroke-linejoin="round" stroke-linecap="butt"/>
<path d="M284.30,101.47 L284.93,100.55 L285.56,99.64 L286.19,98.75 L286.83,97.87 L287.46,97.01 L288.09,96.16 L288.72,95.33 L289.35,94.53 L289.98,93.74 L290.62,92.97 L291.25,92.23 L291.88,91.51 L292.51,90.81 L293.14,90.14 L293.77,89.50 L294.41,88.88 L295.04,88.29 L295.67,87.74 L296.30,87.21 L296.93,86.71 L297.56,86.25 L298.20,85.82 L298.83,85.42 L299.46,85.06 L300.09,84.74 L300.72,84.45 L301.35,84.21 L301.99,84.00 L302.62,83.83 L303.25,83.71 L303.88,83.63 L304.51,83.59 L305.14,83.59 L305.78,83.65 L306.41,83.75 L307.04,83.89 L307.67,84.09 L308.30,84.33 L308.93,84.63 L309.57,84.98 L310.20,85.38 L310.83,85.82 L311.46,86.32 L312.09,86.87 L312.72,87.48 L313.36,88.13 L313.99,88.83 L314.62,89.59 L315.25,90.39 L315.88,91.25 L316.51,92.16 L317.15,93.12 L317.78,94.13 L318.41,95.19 L319.04,96.30 L319.67,97.47 L320.30,98.69 L320.94,99.95 L321.57,101.27 L322.20,102.64 L322.83,104.07 L323.46,105.54 L324.09,107.07 L324.73,108.64 L325.36,110.26 L325.99,111.91 L326.62,113.60 L327.25,115.31 L327.88,117.05 L328.52,118.80 L329.15,120.57 L329.78,122.35 L330.41,124.12 L331.04,125.90 L331.67,127.66 L332.31,129.42 L332.94,131.15 L333.57,132.87 L334.20,134.55" fill="none" stroke="#d0000c" stroke-width="2.0" stroke-linejoin="round" stroke-linecap="butt"/>
<circle cx="284.50" cy="171.30" r="3.15" fill="#00127f"/>
<circle cx="290.40" cy="165.00" r="3.15" fill="#00127f"/>
<circle cx="298.90" cy="181.50" r="3.15" fill="#00127f"/>
<circle cx="302.00" cy="176.40" r="3.15" fill="#00127f"/>
<circle cx="311.20" cy="180.60" r="3.15" fill="#00127f"/>
<circle cx="315.40" cy="178.50" r="3.15" fill="#00127f"/>
<circle cx="321.80" cy="184.60" r="3.15" fill="#00127f"/>
<circle cx="327.40" cy="177.50" r="3.15" fill="#00127f"/>
<circle cx="330.80" cy="191.20" r="3.15" fill="#00127f"/>
<circle cx="334.30" cy="186.30" r="3.15" fill="#00127f"/>
<circle cx="329.20" cy="206.30" r="3.15" fill="#00127f"/>
<circle cx="341.80" cy="195.00" r="3.15" fill="#00127f"/>
<circle cx="346.60" cy="196.40" r="3.15" fill="#00127f"/>
<circle cx="353.40" cy="194.40" r="3.15" fill="#00127f"/>
<circle cx="355.90" cy="177.90" r="3.15" fill="#00127f"/>
<circle cx="357.30" cy="178.00" r="3.15" fill="#00127f"/>
<circle cx="360.80" cy="188.00" r="3.15" fill="#00127f"/>
<circle cx="365.90" cy="188.00" r="3.15" fill="#00127f"/>
<circle cx="361.50" cy="206.30" r="3.15" fill="#00127f"/>
<circle cx="350.90" cy="215.70" r="3.15" fill="#00127f"/>
<circle cx="371.80" cy="203.60" r="3.15" fill="#00127f"/>
<circle cx="374.20" cy="203.30" r="3.15" fill="#00127f"/>
<circle cx="372.90" cy="207.90" r="3.15" fill="#00127f"/>
<circle cx="370.40" cy="215.30" r="3.15" fill="#00127f"/>
<circle cx="381.50" cy="190.60" r="3.15" fill="#00127f"/>
<circle cx="379.20" cy="193.90" r="3.15" fill="#00127f"/>
<circle cx="385.40" cy="208.10" r="3.15" fill="#00127f"/>
<circle cx="387.80" cy="209.20" r="3.15" fill="#00127f"/>
<circle cx="392.30" cy="191.80" r="3.15" fill="#00127f"/>
<circle cx="392.60" cy="209.20" r="3.15" fill="#00127f"/>
<circle cx="384.20" cy="218.00" r="3.15" fill="#00127f"/>
<circle cx="397.60" cy="221.60" r="3.15" fill="#00127f"/>
<circle cx="401.90" cy="220.40" r="3.15" fill="#00127f"/>
<circle cx="399.30" cy="175.00" r="3.15" fill="#00127f"/>
<circle cx="404.80" cy="171.20" r="3.15" fill="#00127f"/>
<circle cx="411.20" cy="204.00" r="3.15" fill="#00127f"/>
<circle cx="412.50" cy="221.90" r="3.15" fill="#00127f"/>
<circle cx="429.80" cy="158.50" r="3.15" fill="#00127f"/>
<circle cx="284.80" cy="98.10" r="3.15" fill="#d2000f"/>
<circle cx="290.40" cy="98.50" r="3.15" fill="#d2000f"/>
<circle cx="299.00" cy="82.80" r="3.15" fill="#d2000f"/>
<circle cx="302.20" cy="94.80" r="3.15" fill="#d2000f"/>
<circle cx="310.60" cy="66.60" r="3.15" fill="#d2000f"/>
<circle cx="315.30" cy="60.40" r="3.15" fill="#d2000f"/>
<circle cx="313.10" cy="118.40" r="3.15" fill="#d2000f"/>
<circle cx="321.90" cy="90.60" r="3.15" fill="#d2000f"/>
<circle cx="329.40" cy="103.80" r="3.15" fill="#d2000f"/>
<circle cx="333.50" cy="110.90" r="3.15" fill="#d2000f"/>
<circle cx="330.70" cy="144.10" r="3.15" fill="#d2000f"/>
<circle cx="327.30" cy="156.90" r="3.15" fill="#d2000f"/>
<path d="M263.50,217.75H270.50M263.50,146.88H270.50M263.50,76.02H270.50M263.50,5.15H270.50M266.90,253.18H270.50M266.90,182.32H270.50M266.90,111.45H270.50M266.90,40.58H270.50M270.50,270.90V277.70M299.07,270.90V277.70M327.63,270.90V277.70M356.20,270.90V277.70M384.77,270.90V277.70M413.33,270.90V277.70M441.90,270.90V277.70M284.78,270.90V274.70M313.35,270.90V274.70M341.92,270.90V274.70M370.48,270.90V274.70M399.05,270.90V274.70M427.62,270.90V274.70" stroke="#141414" stroke-width="1.35" fill="none"/>
<rect x="270.50" y="5.15" width="171.40" height="265.75" fill="none" stroke="#141414" stroke-width="1.4"/>
<text x="258.50" y="221.85" font-size="12" fill="#111" stroke="#111" stroke-width="0.16" text-anchor="end" >4</text>
<text x="258.50" y="150.98" font-size="12" fill="#111" stroke="#111" stroke-width="0.16" text-anchor="end" >8</text>
<text id="t10" x="258.50" y="80.12" font-size="12" fill="#111" stroke="#111" stroke-width="0.16" text-anchor="end" > 2</text>
<path transform="translate(245.141,80.120) scale(0.005859,-0.005859)" d="M768,0 L580,0 L580,1160 C537,1119 480,1077 410,1036 C340,995 277,964 222,943 L222,1117 C323,1164 411,1222 486,1289 C561,1356 614,1424 645,1490 L768,1490 Z" fill="#111" stroke="#111" stroke-width="27.31"/>
<text id="t11" x="258.50" y="9.25" font-size="12" fill="#111" stroke="#111" stroke-width="0.16" text-anchor="end" > 6</text>
<path transform="translate(245.141,9.250) scale(0.005859,-0.005859)" d="M768,0 L580,0 L580,1160 C537,1119 480,1077 410,1036 C340,995 277,964 222,943 L222,1117 C323,1164 411,1222 486,1289 C561,1356 614,1424 645,1490 L768,1490 Z" fill="#111" stroke="#111" stroke-width="27.31"/>
<text x="270.50" y="292.30" font-size="12" fill="#111" stroke="#111" stroke-width="0.16" text-anchor="middle" >0</text>
<text x="299.07" y="292.30" font-size="12" fill="#111" stroke="#111" stroke-width="0.16" text-anchor="middle" >500</text>
<text id="t12" x="327.63" y="292.30" font-size="12" fill="#111" stroke="#111" stroke-width="0.16" text-anchor="middle" > 000</text>
<path transform="translate(314.278,292.300) scale(0.005859,-0.005859)" d="M768,0 L580,0 L580,1160 C537,1119 480,1077 410,1036 C340,995 277,964 222,943 L222,1117 C323,1164 411,1222 486,1289 C561,1356 614,1424 645,1490 L768,1490 Z" fill="#111" stroke="#111" stroke-width="27.31"/>
<text id="t13" x="356.20" y="292.30" font-size="12" fill="#111" stroke="#111" stroke-width="0.16" text-anchor="middle" > 500</text>
<path transform="translate(342.848,292.300) scale(0.005859,-0.005859)" d="M768,0 L580,0 L580,1160 C537,1119 480,1077 410,1036 C340,995 277,964 222,943 L222,1117 C323,1164 411,1222 486,1289 C561,1356 614,1424 645,1490 L768,1490 Z" fill="#111" stroke="#111" stroke-width="27.31"/>
<text x="384.77" y="292.30" font-size="12" fill="#111" stroke="#111" stroke-width="0.16" text-anchor="middle" >2000</text>
<text x="413.33" y="292.30" font-size="12" fill="#111" stroke="#111" stroke-width="0.16" text-anchor="middle" >2500</text>
<text x="441.90" y="292.30" font-size="12" fill="#111" stroke="#111" stroke-width="0.16" text-anchor="middle" >3000</text>
<text x="274.0" y="24.8" font-size="20" fill="#000" stroke="#000" stroke-width="0.16" text-anchor="start" >b</text>
<text id="t14" x="273.75" y="240.4" font-size="12" fill="#22389a" stroke="#22389a" stroke-width="0.16">R<tspan dy="-7.3">2</tspan><tspan dy="7.3">=0.34, p&lt;0.05</tspan></text>
<text id="t15" x="273.75" y="266.2" font-size="12" fill="#d21f2a" stroke="#d21f2a" stroke-width="0.16">R<tspan dy="-7.3">2</tspan><tspan dy="7.3">=0.36, p&lt;0.05</tspan></text>
<path d="M514.40,158.91 L516.88,158.28 L519.37,157.65 L521.85,157.02 L524.33,156.38 L526.82,155.74 L529.30,155.10 L531.78,154.45 L534.26,153.81 L536.75,153.15 L539.23,152.49 L541.71,151.83 L544.20,151.16 L546.68,150.48 L549.16,149.80 L551.65,149.10 L554.13,148.40 L556.61,147.69 L559.09,146.96 L561.58,146.22 L564.06,145.47 L566.54,144.69 L569.03,143.90 L571.51,143.09 L573.99,142.26 L576.48,141.40 L578.96,140.51 L581.44,139.58 L583.93,138.63 L586.41,137.64 L588.89,136.62 L591.37,135.56 L593.86,134.46 L596.34,133.32 L598.82,132.16 L601.31,130.95 L603.79,129.72 L606.27,128.46 L608.76,127.18 L611.24,125.87 L613.72,124.54 L616.21,123.19 L618.69,121.82 L621.17,120.44 L623.65,119.05 L626.14,117.64 L628.62,116.22 L631.10,114.80 L633.59,113.36 L636.07,111.92 L638.55,110.47 L641.04,109.02 L643.52,107.56 L646.00,106.09 L648.48,104.62 L650.97,103.15 L653.45,101.67 L655.93,100.19 L658.42,98.71 L660.90,97.22 L660.90,126.58 L658.42,127.21 L655.93,127.85 L653.45,128.48 L650.97,129.13 L648.48,129.77 L646.00,130.42 L643.52,131.07 L641.04,131.73 L638.55,132.40 L636.07,133.07 L633.59,133.74 L631.10,134.43 L628.62,135.12 L626.14,135.82 L623.65,136.53 L621.17,137.26 L618.69,137.99 L616.21,138.75 L613.72,139.52 L611.24,140.30 L608.76,141.11 L606.27,141.95 L603.79,142.81 L601.31,143.69 L598.82,144.61 L596.34,145.56 L593.86,146.55 L591.37,147.57 L588.89,148.62 L586.41,149.72 L583.93,150.85 L581.44,152.01 L578.96,153.21 L576.48,154.44 L573.99,155.70 L571.51,156.98 L569.03,158.29 L566.54,159.61 L564.06,160.96 L561.58,162.33 L559.09,163.70 L556.61,165.10 L554.13,166.50 L551.65,167.92 L549.16,169.34 L546.68,170.78 L544.20,172.22 L541.71,173.67 L539.23,175.12 L536.75,176.58 L534.26,178.05 L531.78,179.51 L529.30,180.99 L526.82,182.46 L524.33,183.94 L521.85,185.43 L519.37,186.91 L516.88,188.40 L514.40,189.89 Z" fill="#c6e7fc"/>
<path d="M514.60,200.41 L516.09,199.41 L517.57,198.42 L519.06,197.42 L520.55,196.41 L522.04,195.40 L523.52,194.38 L525.01,193.36 L526.50,192.32 L527.98,191.28 L529.47,190.22 L530.96,189.16 L532.45,188.08 L533.93,186.99 L535.42,185.87 L536.91,184.74 L538.39,183.59 L539.88,182.41 L541.37,181.21 L542.86,179.97 L544.34,178.69 L545.83,177.37 L547.32,176.01 L548.81,174.59 L550.29,173.12 L551.78,171.58 L553.27,169.98 L554.75,168.31 L556.24,166.57 L557.73,164.77 L559.22,162.90 L560.70,160.96 L562.19,158.97 L563.68,156.92 L565.16,154.83 L566.65,152.69 L568.14,150.51 L569.63,148.30 L571.11,146.06 L572.60,143.79 L572.60,169.69 L571.11,170.85 L569.63,172.04 L568.14,173.25 L566.65,174.51 L565.16,175.80 L563.68,177.13 L562.19,178.51 L560.70,179.95 L559.22,181.44 L557.73,183.00 L556.24,184.62 L554.75,186.31 L553.27,188.07 L551.78,189.90 L550.29,191.79 L548.81,193.75 L547.32,195.76 L545.83,197.82 L544.34,199.93 L542.86,202.09 L541.37,204.27 L539.88,206.50 L538.39,208.75 L536.91,211.02 L535.42,213.32 L533.93,215.64 L532.45,217.97 L530.96,220.32 L529.47,222.69 L527.98,225.06 L526.50,227.45 L525.01,229.84 L523.52,232.25 L522.04,234.66 L520.55,237.07 L519.06,239.50 L517.57,241.92 L516.09,244.36 L514.60,246.79 Z" fill="#fec8c8"/>
<path d="M514.80,181.00V187.20M511.60,181.00H518.00M511.60,187.20H518.00M520.40,180.00V186.00M517.20,180.00H523.60M517.20,186.00H523.60M529.10,160.50V167.50M525.90,160.50H532.30M525.90,167.50H532.30M532.30,156.50V163.50M529.10,156.50H535.50M529.10,163.50H535.50M541.00,157.00V166.50M537.80,157.00H544.20M537.80,166.50H544.20M545.80,162.00V172.50M542.60,162.00H549.00M542.60,172.50H549.00M543.60,143.00V153.50M540.40,143.00H546.80M540.40,153.50H546.80M552.20,138.00V149.00M549.00,138.00H555.40M549.00,149.00H555.40M558.00,142.00V154.50M554.80,142.00H561.20M554.80,154.50H561.20M560.10,136.00V149.00M556.90,136.00H563.30M556.90,149.00H563.30M564.50,142.00V154.00M561.30,142.00H567.70M561.30,154.00H567.70M572.10,138.00V150.00M568.90,138.00H575.30M568.90,150.00H575.30M573.50,158.00V172.50M570.30,158.00H576.70M570.30,172.50H576.70M577.50,111.80V128.80M574.30,111.80H580.70M574.30,128.80H580.70M581.30,141.00V156.50M578.10,141.00H584.50M578.10,156.50H584.50M584.30,141.00V157.50M581.10,141.00H587.50M581.10,157.50H587.50M586.80,130.00V148.00M583.60,130.00H590.00M583.60,148.00H590.00M586.30,150.00V167.50M583.10,150.00H589.50M583.10,167.50H589.50M590.90,123.00V140.00M587.70,123.00H594.10M587.70,140.00H594.10M592.50,155.00V173.00M589.30,155.00H595.70M589.30,173.00H595.70M596.40,145.00V162.50M593.20,145.00H599.60M593.20,162.50H599.60M600.50,174.00V196.50M597.30,174.00H603.70M597.30,196.50H603.70M601.60,135.00V154.00M598.40,135.00H604.80M598.40,154.00H604.80M605.20,134.00V153.00M602.00,134.00H608.40M602.00,153.00H608.40M603.70,104.90V129.70M600.50,104.90H606.90M600.50,129.70H606.90M609.80,121.00V140.00M606.60,121.00H613.00M606.60,140.00H613.00M615.80,121.00V140.00M612.60,121.00H619.00M612.60,140.00H619.00M612.70,135.00V153.50M609.50,135.00H615.90M609.50,153.50H615.90M615.50,138.00V156.00M612.30,138.00H618.70M612.30,156.00H618.70M618.40,29.00V94.50M615.20,29.00H621.60M615.20,94.50H621.60M623.60,126.00V147.00M620.40,126.00H626.80M620.40,147.00H626.80M622.60,131.00V150.50M619.40,131.00H625.80M619.40,150.50H625.80M629.80,120.00V141.00M626.60,120.00H633.00M626.60,141.00H633.00M632.30,106.30V132.70M629.10,106.30H635.50M629.10,132.70H635.50M628.30,147.00V181.00M625.10,147.00H631.50M625.10,181.00H631.50M635.50,74.30V108.10M632.30,74.30H638.70M632.30,108.10H638.70M641.50,64.00V101.60M638.30,64.00H644.70M638.30,101.60H644.70M643.80,142.00V175.00M640.60,142.00H647.00M640.60,175.00H647.00M660.50,71.50V109.20M657.30,71.50H663.70M657.30,109.20H663.70" fill="none" stroke="#666cb4" stroke-width="1.0" opacity="1.0"/>
<path d="M514.80,232.30V235.30M511.60,232.30H518.00M511.60,235.30H518.00M520.70,204.00V214.50M517.50,204.00H523.90M517.50,214.50H523.90M529.00,214.00V224.00M525.80,214.00H532.20M525.80,224.00H532.20M532.40,201.00V211.50M529.20,201.00H535.60M529.20,211.50H535.60M541.10,179.80V193.50M537.90,179.80H544.30M537.90,193.50H544.30M545.70,180.00V192.00M542.50,180.00H548.90M542.50,192.00H548.90M552.20,185.50V199.50M549.00,185.50H555.40M549.00,199.50H555.40M559.60,189.00V209.00M556.40,189.00H562.80M556.40,209.00H562.80M558.00,160.80V183.50M554.80,160.80H561.20M554.80,183.50H561.20M564.50,157.50V193.00M561.30,157.50H567.70M561.30,193.00H567.70M572.20,146.20V179.80M569.00,146.20H575.40M569.00,179.80H575.40M543.50,130.00V180.50M540.30,130.00H546.70M540.30,180.50H546.70M561.20,114.20V161.50M558.00,114.20H564.40M558.00,161.50H564.40" fill="none" stroke="#e4566a" stroke-width="1.0" opacity="1.0"/>
<path d="M514.40,174.40 L660.90,111.90" fill="none" stroke="#0a2a90" stroke-width="2.0" stroke-linejoin="round" stroke-linecap="butt"/>
<path d="M514.60,223.60 L572.20,157.20" fill="none" stroke="#d0000c" stroke-width="2.0" stroke-linejoin="round" stroke-linecap="butt"/>
<circle cx="514.80" cy="184.10" r="3.15" fill="#00127f"/>
<circle cx="520.40" cy="183.00" r="3.15" fill="#00127f"/>
<circle cx="529.10" cy="164.00" r="3.15" fill="#00127f"/>
<circle cx="532.30" cy="160.00" r="3.15" fill="#00127f"/>
<circle cx="541.00" cy="161.80" r="3.15" fill="#00127f"/>
<circle cx="545.80" cy="167.30" r="3.15" fill="#00127f"/>
<circle cx="543.60" cy="148.20" r="3.15" fill="#00127f"/>
<circle cx="552.20" cy="143.60" r="3.15" fill="#00127f"/>
<circle cx="558.00" cy="148.20" r="3.15" fill="#00127f"/>
<circle cx="560.10" cy="142.50" r="3.15" fill="#00127f"/>
<circle cx="564.50" cy="148.10" r="3.15" fill="#00127f"/>
<circle cx="572.10" cy="144.00" r="3.15" fill="#00127f"/>
<circle cx="573.50" cy="165.30" r="3.15" fill="#00127f"/>
<circle cx="577.50" cy="120.50" r="3.15" fill="#00127f"/>
<circle cx="581.30" cy="148.70" r="3.15" fill="#00127f"/>
<circle cx="584.30" cy="149.30" r="3.15" fill="#00127f"/>
<circle cx="586.80" cy="139.00" r="3.15" fill="#00127f"/>
<circle cx="586.30" cy="158.80" r="3.15" fill="#00127f"/>
<circle cx="590.90" cy="131.40" r="3.15" fill="#00127f"/>
<circle cx="592.50" cy="164.00" r="3.15" fill="#00127f"/>
<circle cx="596.40" cy="153.80" r="3.15" fill="#00127f"/>
<circle cx="600.50" cy="185.30" r="3.15" fill="#00127f"/>
<circle cx="601.60" cy="144.40" r="3.15" fill="#00127f"/>
<circle cx="605.20" cy="143.50" r="3.15" fill="#00127f"/>
<circle cx="603.70" cy="117.30" r="3.15" fill="#00127f"/>
<circle cx="609.80" cy="130.60" r="3.15" fill="#00127f"/>
<circle cx="615.80" cy="130.60" r="3.15" fill="#00127f"/>
<circle cx="612.70" cy="144.30" r="3.15" fill="#00127f"/>
<circle cx="615.50" cy="147.00" r="3.15" fill="#00127f"/>
<circle cx="618.40" cy="61.80" r="3.15" fill="#00127f"/>
<circle cx="623.60" cy="136.40" r="3.15" fill="#00127f"/>
<circle cx="622.60" cy="140.70" r="3.15" fill="#00127f"/>
<circle cx="629.80" cy="130.60" r="3.15" fill="#00127f"/>
<circle cx="632.30" cy="119.50" r="3.15" fill="#00127f"/>
<circle cx="628.30" cy="164.00" r="3.15" fill="#00127f"/>
<circle cx="635.50" cy="91.40" r="3.15" fill="#00127f"/>
<circle cx="641.50" cy="82.40" r="3.15" fill="#00127f"/>
<circle cx="643.80" cy="158.60" r="3.15" fill="#00127f"/>
<circle cx="660.50" cy="90.40" r="3.15" fill="#00127f"/>
<circle cx="514.80" cy="233.80" r="3.15" fill="#d2000f"/>
<circle cx="520.70" cy="209.30" r="3.15" fill="#d2000f"/>
<circle cx="529.00" cy="218.90" r="3.15" fill="#d2000f"/>
<circle cx="532.40" cy="206.30" r="3.15" fill="#d2000f"/>
<circle cx="541.10" cy="186.60" r="3.15" fill="#d2000f"/>
<circle cx="545.70" cy="186.00" r="3.15" fill="#d2000f"/>
<circle cx="552.20" cy="192.60" r="3.15" fill="#d2000f"/>
<circle cx="559.60" cy="198.80" r="3.15" fill="#d2000f"/>
<circle cx="558.00" cy="172.20" r="3.15" fill="#d2000f"/>
<circle cx="564.50" cy="175.30" r="3.15" fill="#d2000f"/>
<circle cx="572.20" cy="163.00" r="3.15" fill="#d2000f"/>
<circle cx="543.50" cy="155.30" r="3.15" fill="#d2000f"/>
<circle cx="561.20" cy="137.80" r="3.15" fill="#d2000f"/>
<path d="M494.45,270.90H500.75M494.45,217.75H500.75M494.45,164.60H500.75M494.45,111.45H500.75M494.45,58.30H500.75M494.45,5.15H500.75M497.55,244.33H500.75M497.55,191.18H500.75M497.55,138.03H500.75M497.55,84.88H500.75M497.55,31.73H500.75M500.75,270.90V275.00M529.33,270.90V275.00M557.92,270.90V275.00M586.50,270.90V275.00M615.08,270.90V275.00M643.67,270.90V275.00M672.25,270.90V275.00M515.04,270.90V273.40M543.62,270.90V273.40M572.21,270.90V273.40M600.79,270.90V273.40M629.38,270.90V273.40M657.96,270.90V273.40" stroke="#141414" stroke-width="1.35" fill="none"/>
<rect x="500.75" y="5.15" width="171.50" height="265.75" fill="none" stroke="#141414" stroke-width="1.4"/>
<text x="488.75" y="275.00" font-size="12" fill="#111" stroke="#111" stroke-width="0.16" text-anchor="end" >0</text>
<text x="488.75" y="221.85" font-size="12" fill="#111" stroke="#111" stroke-width="0.16" text-anchor="end" >2</text>
<text x="488.75" y="168.70" font-size="12" fill="#111" stroke="#111" stroke-width="0.16" text-anchor="end" >4</text>
<text x="488.75" y="115.55" font-size="12" fill="#111" stroke="#111" stroke-width="0.16" text-anchor="end" >6</text>
<text x="488.75" y="62.40" font-size="12" fill="#111" stroke="#111" stroke-width="0.16" text-anchor="end" >8</text>
<text id="t16" x="488.75" y="9.25" font-size="12" fill="#111" stroke="#111" stroke-width="0.16" text-anchor="end" > 0</text>
<path transform="translate(475.391,9.250) scale(0.005859,-0.005859)" d="M768,0 L580,0 L580,1160 C537,1119 480,1077 410,1036 C340,995 277,964 222,943 L222,1117 C323,1164 411,1222 486,1289 C561,1356 614,1424 645,1490 L768,1490 Z" fill="#111" stroke="#111" stroke-width="27.31"/>
<text x="500.75" y="287.50" font-size="12" fill="#111" stroke="#111" stroke-width="0.16" text-anchor="middle" >0</text>
<text x="529.33" y="287.50" font-size="12" fill="#111" stroke="#111" stroke-width="0.16" text-anchor="middle" >500</text>
<text id="t17" x="557.92" y="287.50" font-size="12" fill="#111" stroke="#111" stroke-width="0.16" text-anchor="middle" > 000</text>
<path transform="translate(544.568,287.500) scale(0.005859,-0.005859)" d="M768,0 L580,0 L580,1160 C537,1119 480,1077 410,1036 C340,995 277,964 222,943 L222,1117 C323,1164 411,1222 486,1289 C561,1356 614,1424 645,1490 L768,1490 Z" fill="#111" stroke="#111" stroke-width="27.31"/>
<text id="t18" x="586.50" y="287.50" font-size="12" fill="#111" stroke="#111" stroke-width="0.16" text-anchor="middle" > 500</text>
<path transform="translate(573.148,287.500) scale(0.005859,-0.005859)" d="M768,0 L580,0 L580,1160 C537,1119 480,1077 410,1036 C340,995 277,964 222,943 L222,1117 C323,1164 411,1222 486,1289 C561,1356 614,1424 645,1490 L768,1490 Z" fill="#111" stroke="#111" stroke-width="27.31"/>
<text x="615.08" y="287.50" font-size="12" fill="#111" stroke="#111" stroke-width="0.16" text-anchor="middle" >2000</text>
<text x="643.67" y="287.50" font-size="12" fill="#111" stroke="#111" stroke-width="0.16" text-anchor="middle" >2500</text>
<text x="672.25" y="287.50" font-size="12" fill="#111" stroke="#111" stroke-width="0.16" text-anchor="middle" >3000</text>
<text x="504.4" y="24.8" font-size="20" fill="#000" stroke="#000" stroke-width="0.16" text-anchor="start" >c</text>
<text id="t19" x="575.8" y="237.6" font-size="12" fill="#22389a" stroke="#22389a" stroke-width="0.16">R<tspan dy="-7.3">2</tspan><tspan dy="7.3">=0.36, p&lt;0.05</tspan></text>
<text id="t20" x="575.8" y="263.0" font-size="12" fill="#d21f2a" stroke="#d21f2a" stroke-width="0.16">R<tspan dy="-7.3">2</tspan><tspan dy="7.3">=0.58, p&lt;0.05</tspan></text>
<text x="43.0" y="316.6" font-size="13.6" fill="#111" stroke="#111" stroke-width="0.16" text-anchor="start" >Distance to forest edge (m)</text>
<text x="278.8" y="315.5" font-size="13.6" fill="#111" stroke="#111" stroke-width="0.16" text-anchor="start" >Distance to forest edge (m)</text>
<text x="510.7" y="315.5" font-size="13.6" fill="#111" stroke="#111" stroke-width="0.16" text-anchor="start" >Distance to forest edge (m)</text>
<text transform="translate(9.8,220.2) rotate(-90)" font-size="13.6" fill="#111" stroke="#111" stroke-width="0.16">Human Footprint (Unitless)</text>
<text transform="translate(238.2,192.5) rotate(-90)" font-size="13.6" fill="#111" stroke="#111" stroke-width="0.16">Mortality Rate (%)</text>
<text transform="translate(474.75,224.6) rotate(-90)" font-size="13.6" fill="#111" stroke="#111" stroke-width="0.16">Tree Establishment Rate (%)</text>
</svg>
</body></html>
